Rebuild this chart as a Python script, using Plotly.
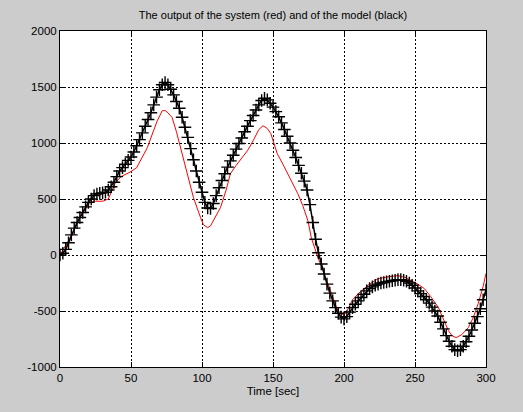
import plotly.graph_objects as go

# Model output (black, '+' markers), sampled every 2 s
model_t = list(range(0, 301, 2))
model_y = [0, 15, 50, 110, 180, 240, 290, 335, 380, 430,
           470, 500, 530, 545, 550, 555, 560, 580, 610, 650,
           700, 750, 780, 810, 845, 875, 920, 975, 1030, 1090,
           1150, 1210, 1270, 1340, 1410, 1475, 1520, 1540, 1520, 1480,
           1430, 1370, 1310, 1230, 1140, 1050, 950, 850, 750, 650,
           560, 470, 420, 415, 460, 530, 600, 665, 725, 785,
           840, 890, 945, 995, 1045, 1100, 1150, 1200, 1245, 1295,
           1340, 1380, 1400, 1385, 1355, 1320, 1280, 1235, 1180, 1120,
           1060, 1000, 935, 870, 800, 730, 660, 580, 450, 290,
           140, 20, -80, -170, -260, -340, -410, -470, -520, -555,
           -570, -550, -510, -470, -440, -410, -380, -350, -320, -300,
           -285, -270, -260, -250, -245, -240, -235, -230, -225, -220,
           -220, -225, -235, -250, -270, -295, -320, -345, -370, -400,
           -430, -465, -500, -545, -600, -660, -720, -770, -815, -845,
           -855, -845, -815, -775, -725, -670, -610, -550, -480, -400,
           -310]

# System output (red line)
system_t = [0, 7, 14, 21, 25, 30, 34, 37, 39, 43, 47, 50, 54, 58, 61.5, 65, 68.5, 72, 74, 76,
            79, 82, 86, 90, 94, 99, 101, 104, 106, 109, 113, 117, 120, 124, 128, 132, 136, 140,
            143, 146, 148.5, 153, 157, 160.5, 164, 167.5, 171, 174.6, 177, 181, 186, 191, 195.6,
            200, 203, 206, 210, 217, 224, 231, 238, 243, 247.5, 252, 256.6, 261, 266.5, 270,
            273.5, 276, 279, 283, 287.5, 291, 294.5, 298, 300]
system_y = [0, 150, 330, 470, 480, 480, 500, 580, 645, 700, 726, 745, 780, 880, 958, 1080, 1198,
            1288, 1290, 1270, 1226, 1100, 904, 700, 512, 333, 270, 244, 260, 330, 423, 580, 726,
            800, 870, 931, 1020, 1120, 1154, 1130, 1083, 904, 810, 726, 640, 547, 440, 306, 154,
            0, -167, -340, -497, -540, -480, -400, -345, -270, -211, -195, -184, -200, -229,
            -260, -300, -370, -470, -570, -675, -720, -738, -710, -649, -560, -434, -280, -165]

x_ticks = [0, 50, 100, 150, 200, 250, 300]
y_ticks = [-1000, -500, 0, 500, 1000, 1500, 2000]
y_tick_labels = ["-1000", "-500", "0", "500", "1000", "1500", "2000"]

fig = go.Figure()
fig.add_trace(go.Scatter(x=system_t, y=system_y, mode="lines",
                         line=dict(color="#ff0000", width=1), showlegend=False))
fig.add_trace(go.Scatter(x=model_t, y=model_y, mode="lines+markers",
                         line=dict(color="black", width=1.5),
                         marker=dict(symbol="cross-thin", size=9,
                                     line=dict(color="black", width=1.4)),
                         showlegend=False))

font = dict(family="Liberation Sans, Arial, sans-serif", size=11.5, color="black")
axis_common = dict(showline=True, linecolor="black", linewidth=1, mirror="ticks",
                   ticks="inside", ticklen=5, tickcolor="black",
                   showgrid=True, gridcolor="black", gridwidth=1, griddash="2px,2px",
                   zeroline=False, tickfont=font)

fig.update_layout(
    width=523, height=412,
    margin=dict(l=60, r=37, t=31, b=45),
    paper_bgcolor="#cccccc", plot_bgcolor="white",
    font=font,
    title=dict(text="The output of the system (red) and of the model (black)",
               x=0.5, xref="paper", y=1 - 15 / 412, yanchor="middle",
               font=dict(family="Liberation Sans, Arial, sans-serif", size=11, color="black")),
    xaxis=dict(range=[0, 300], tickvals=x_ticks,
               title=dict(text="Time [sec]", standoff=4, font=font), **axis_common),
    yaxis=dict(range=[-1000, 2000], tickvals=y_ticks, ticktext=y_tick_labels, **axis_common),
)

fig.write_html("out.html")
